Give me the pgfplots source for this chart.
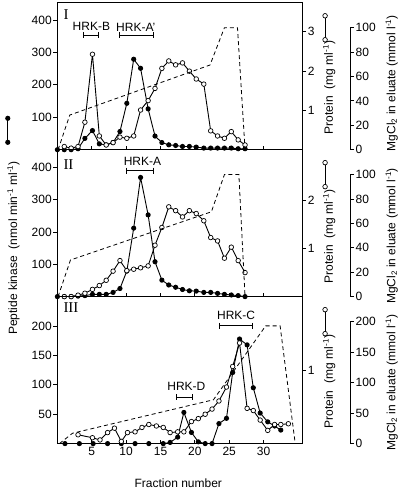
\documentclass[border=0pt]{standalone}
\usepackage{pgfplots}
\pgfplotsset{compat=1.18}
\usepackage{fontspec}
\setmainfont{Liberation Sans}
\newfontfamily\romfont{Liberation Serif}
\newcommand{\lbl}{\fontsize{12}{14}\selectfont}

\pgfplotsset{
  panel/.style={
    width=244.7pt, height=146.9pt, scale only axis,
    xmin=0, xmax=35.6,
    axis line style={line width=1pt},
    every tick/.style={black, line width=0.9pt},
    major tick length=4pt,
    /pgf/number format/assume math mode=true,
    tick label style={font=\lbl},
  },
  kinase/.style={panel, xtick={5,10,...,30}, xtick pos=left, xtick align=inside,
    ytick pos=left, ytick align=outside, yticklabel style={inner xsep=1.5pt},
    legend style={at={(-0.2007,0.132)}, anchor=center, draw=none, fill=none,
      inner sep=0pt, column sep=0pt, nodes={inner sep=0pt}}},
  protein/.style={panel, hide x axis, axis y line*=right, ytick align=outside,
    yticklabel style={inner xsep=1.5pt},
    legend style={at={(1.096,0.83)}, anchor=center, draw=none, fill=none,
      inner sep=0pt, column sep=0pt, nodes={inner sep=0pt}}},
  mgdata/.style={panel, hide axis},
  mgscale/.style={width=4pt, height=122pt, scale only axis, xmin=0, xmax=1, ymin=0,
    hide x axis, axis y line*=right, ytick align=outside,
    axis line style={line width=1pt}, every tick/.style={black, line width=0.9pt},
    major tick length=4pt, /pgf/number format/assume math mode=true,
    tick label style={font=\lbl}, yticklabel style={inner xsep=1.5pt}},
  fillser/.style={black, line width=0.9pt, mark=*, mark size=2.1pt},
  openser/.style={black, line width=0.9pt, mark=*, mark size=2.3pt,
    mark options={fill=white, line width=0.7pt}},
  gradser/.style={black, line width=0.8pt, dash pattern=on 4pt off 3pt},
  hrk/.style={black, line width=0.8pt, mark=|, mark size=3pt, mark options={line width=0.8pt}},
  vkey/.style={legend image code/.code={\draw[##1] plot coordinates {(0pt,-12pt) (0pt,12pt)};}},
}

\begin{document}
\begin{tikzpicture}
\useasboundingbox (0pt,0pt) rectangle (400pt,493pt);

% ================= PANEL I =================
\begin{axis}[kinase, at={(57.4pt,343.3pt)}, anchor=south west, ymin=0, ymax=453,
  ytick={100,200,300,400}, xticklabels={}]
\addlegendimage{fillser, vkey}
\addlegendentry{\hbox{}}
\addplot[fillser] coordinates {
(0,0) (1.0,0) (2.0,0) (3.0,3) (4.0,35) (5.1,59) (6.1,18) (7.1,15) (8.1,22) (9.1,56)
(10.1,143) (11.1,279) (12.1,251) (13.2,126) (14.2,42) (15.2,22) (16.2,15) (17.2,13)
(18.2,10) (19.2,10) (20.2,8) (21.3,5) (22.3,5) (23.3,5) (24.3,5) (25.3,5) (26.3,3) (27.3,3)};
\addplot[hrk] coordinates {(3.77,354) (5.96,354)};
\addplot[hrk] coordinates {(9.02,354) (13.97,354)};
\node[font=\lbl] at (axis cs:4.94,379) {HRK-B};
\node[font=\lbl] at (axis cs:11.4,378) {HRK-A'};
\end{axis}
\begin{axis}[protein, at={(57.4pt,343.3pt)}, anchor=south west, ymin=0, ymax=3.74, ytick={1,2,3}]
\addlegendimage{openser, vkey}
\addlegendentry{\hbox{}}
\addplot[openser] coordinates {
(1.0,0.08) (2.0,0.04) (3.0,0.08) (4.0,0.70) (5.1,2.43) (6.1,0.35) (7.1,0.12) (8.1,0.18)
(9.1,0.32) (10.1,0.29) (11.1,0.35) (12.1,1.01) (13.2,1.25) (14.2,1.56) (15.2,2.07)
(16.2,2.26) (17.2,2.16) (18.2,2.21) (19.2,2.00) (20.2,1.80) (21.3,1.67) (22.3,0.48)
(23.3,0.35) (24.3,0.29) (25.3,0.46) (26.3,0.25) (27.3,0.12)};
\end{axis}
\begin{axis}[mgdata, at={(57.4pt,343.3pt)}, anchor=south west, ymin=0, ymax=120.4]
\addplot[gradser] coordinates {(0.1,0) (1.8,28.4) (22.2,69.4) (24.3,100) (26.2,100) (27.3,0)};
\end{axis}
\begin{axis}[mgscale, at={(350pt,343.3pt)}, anchor=south east, ymax=100, ytick={0,20,...,100}]
\end{axis}

% ================= PANEL II =================
\begin{axis}[kinase, at={(57.4pt,196.4pt)}, anchor=south west, ymin=0, ymax=455,
  ytick={100,200,300,400}, xticklabels={}]
\addplot[fillser] coordinates {
(0,0) (1.0,0) (2.0,0) (3.0,1.5) (4.0,3) (5.1,7) (6.1,7) (7.1,7) (8.1,13) (9.1,25)
(10.1,79) (11.1,212) (12.1,369) (13.2,253) (14.2,108) (15.2,51) (16.2,36) (17.2,29)
(18.2,22) (19.2,18) (20.2,17) (21.3,13) (22.3,13) (23.3,10) (24.3,7) (25.3,5) (26.3,3) (27.3,0)};
\addplot[hrk] coordinates {(10.1,390) (13.97,390)};
\node[font=\lbl] at (axis cs:12.37,417.5) {HRK-A};
\end{axis}
\begin{axis}[protein, at={(57.4pt,196.4pt)}, anchor=south west, ymin=0, ymax=3.06, ytick={1,2}]
\addlegendimage{openser, vkey}
\addlegendentry{\hbox{}}
\addplot[openser] coordinates {
(1.0,0) (2.0,0) (3.0,0.03) (4.0,0.07) (5.1,0.15) (6.1,0.23) (7.1,0.34) (8.1,0.53)
(9.1,0.75) (10.1,0.54) (11.1,0.57) (12.1,0.60) (13.2,0.64) (14.2,1.07) (15.2,1.44)
(16.2,1.87) (17.2,1.79) (18.2,1.66) (19.2,1.79) (20.2,1.73) (21.3,1.58) (22.3,1.23)
(23.3,1.16) (24.3,0.80) (25.3,1.03) (26.3,0.75) (27.3,0.50)};
\end{axis}
\begin{axis}[mgdata, at={(57.4pt,196.4pt)}, anchor=south west, ymin=0, ymax=120.4]
\addplot[gradser] coordinates {(0.1,0) (1.9,30) (22.4,69.5) (24.3,100) (26.4,100) (27.3,0)};
\end{axis}
\begin{axis}[mgscale, at={(350pt,196.4pt)}, anchor=south east, ymax=100, ytick={0,20,...,100}]
\end{axis}

% ================= PANEL III =================
\begin{axis}[kinase, at={(57.4pt,49.4pt)}, anchor=south west, ymin=0, ymax=250,
  ytick={50,100,150,200}]
\addplot[fillser] coordinates {
(1.1,0) (3.2,0) (5.2,0) (7.3,0) (9.3,0) (11.3,0) (13.3,0) (15.4,0) (16.4,2) (17.5,11)
(18.4,53) (19.5,19) (20.5,3) (21.5,0) (22.5,0) (23.5,34) (24.6,43) (25.5,121) (26.5,178)
(27.6,168) (28.5,95) (29.5,52) (30.6,37) (31.6,30) (32.5,23)};
\addplot[hrk] coordinates {(23.54,200.5) (28.4,200.5)};
\addplot[hrk] coordinates {(17.38,79) (19.57,79)};
\node[font=\lbl] at (axis cs:26.0,219) {HRK-C};
\node[font=\lbl] at (axis cs:18.76,97.2) {HRK-D};
\end{axis}
\begin{axis}[protein, at={(57.4pt,49.4pt)}, anchor=south west, ymin=0, ymax=2.0, ytick={1}]
\addlegendimage{openser, vkey}
\addlegendentry{\hbox{}}
\addplot[openser] coordinates {
(3.0,0.12) (5.1,0.08) (6.2,0.05) (7.3,0.15) (8.3,0.21) (9.3,0.03) (10.2,0.15) (11.3,0.16)
(12.3,0.22) (13.3,0.26) (14.4,0.24) (15.4,0.22) (16.4,0.15) (17.5,0.16) (18.4,0.16)
(19.5,0.30) (20.5,0.34) (21.5,0.40) (22.5,0.47) (23.5,0.58) (24.6,0.77) (25.5,1.05)
(26.5,1.37) (27.6,0.48) (28.5,0.45) (29.5,0.32) (30.6,0.18) (31.6,0.26) (32.5,0.26) (33.6,0.27)};
\end{axis}
\begin{axis}[mgdata, at={(57.4pt,49.4pt)}, anchor=south west, ymin=0, ymax=240.8]
\addplot[gradser] coordinates {(0.3,0) (2.2,17) (22.7,71.8) (30.3,193) (32.4,193) (34.6,0)};
\end{axis}
\begin{axis}[mgscale, at={(350pt,49.4pt)}, anchor=south east, ymax=200, ytick={0,50,...,200}]
\end{axis}

% ================= labels =================
\node[rotate=90, font=\lbl] at (13.5pt,245pt) {Peptide kinase\hspace{0.6em}(nmol min\textsuperscript{-1} ml\textsuperscript{-1})};
\node[font=\lbl] at (178.3pt,9.5pt) {Fraction number};

\node[rotate=90, font=\lbl] at (329.3pt,405.5pt) {Protein\hspace{0.6em}(mg ml\textsuperscript{-1})};
\node[rotate=90, font=\lbl] at (329.3pt,256.5pt) {Protein\hspace{0.6em}(mg ml\textsuperscript{-1})};
\node[rotate=90, font=\lbl] at (329.3pt,111.3pt) {Protein\hspace{0.6em}(mg ml\textsuperscript{-1})};

\node[rotate=90, font=\lbl] at (391.7pt,409.7pt) {MgCl\textsubscript{2} in eluate (mmol l\textsuperscript{-1})};
\node[rotate=90, font=\lbl] at (391.7pt,257pt) {MgCl\textsubscript{2} in eluate (mmol l\textsuperscript{-1})};
\node[rotate=90, font=\lbl] at (391.7pt,110.5pt) {MgCl\textsubscript{2} in eluate (mmol l\textsuperscript{-1})};

\node[font=\romfont\fontsize{15}{15}\selectfont, anchor=west, inner sep=0pt] at (63.3pt,478pt) {I};
\node[font=\romfont\fontsize{15}{15}\selectfont, anchor=west, inner sep=0pt] at (63.3pt,328.8pt) {II};
\node[font=\romfont\fontsize{15}{15}\selectfont, anchor=west, inner sep=0pt] at (63.3pt,185.5pt) {III};
\end{tikzpicture}
\end{document}
